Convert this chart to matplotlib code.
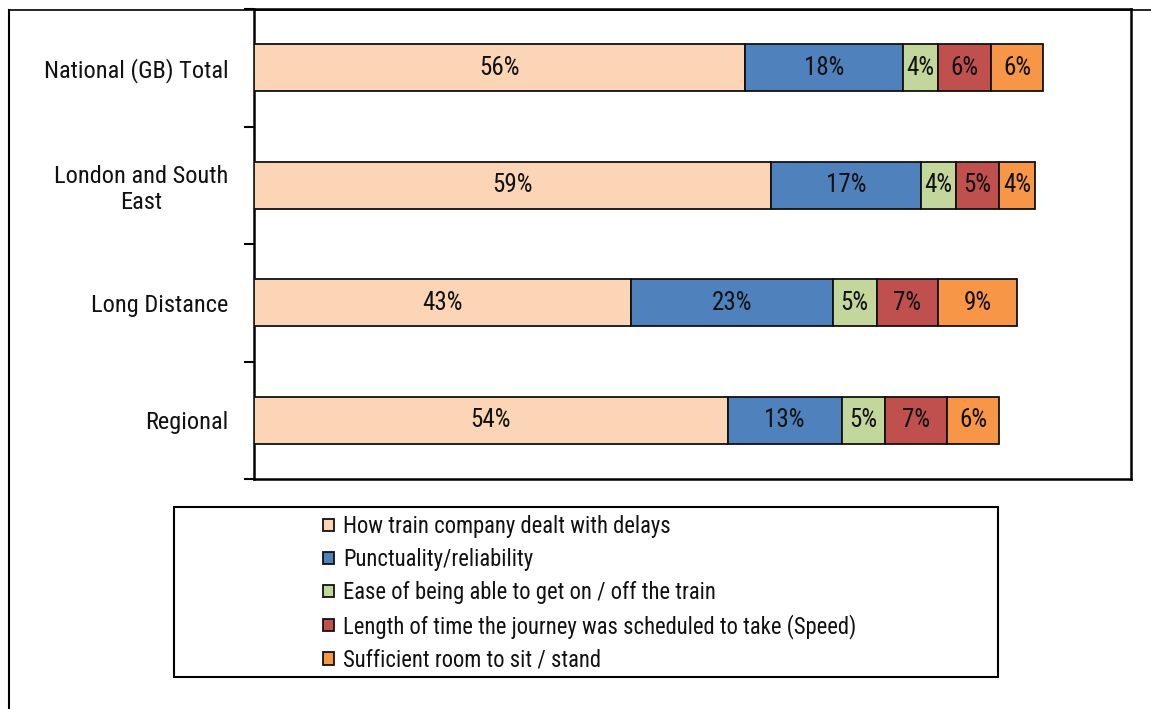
import matplotlib
matplotlib.use("Agg")
import matplotlib.pyplot as plt
from matplotlib.lines import Line2D
from matplotlib.patches import Rectangle
import numpy as np

plt.rcParams['font.family'] = ['Roboto Condensed', 'Archivo Narrow', 'DejaVu Sans']

categories = ["National (GB) Total", "London and South\nEast", "Long Distance", "Regional"]
series_names = [
    "How train company dealt with delays",
    "Punctuality/reliability",
    "Ease of being able to get on / off the train",
    "Length of time the journey was scheduled to take (Speed)",
    "Sufficient room to sit / stand",
]
delays = [56, 59, 43, 54]
punctuality = [18, 17, 23, 13]
ease = [4, 4, 5, 5]
speed = [6, 5, 7, 7]
room = [6, 4, 9, 6]
series_values = [delays, punctuality, ease, speed, room]
colors = ["#FBD5B5", "#4F81BD", "#C3D69B", "#C0504D", "#F79646"]

W, H = 1151, 709
fig = plt.figure(figsize=(W / 100, H / 100), dpi=100)

ax = fig.add_axes([254 / W, (H - 479) / H, (1131 - 254) / W, (479 - 9) / H])
y = np.arange(len(categories))
left = np.zeros(len(categories))
handles = []
for name, vals, col in zip(series_names, series_values, colors):
    vals = np.array(vals, dtype=float)
    bars = ax.barh(y, vals, left=left, height=0.4, color=col,
                   edgecolor="#111111", linewidth=1.3, label=name, zorder=3)
    handles.append(bars)
    for yi, l, v in zip(y, left, vals):
        ax.text(l + v / 2, yi, f"{int(v)}%", ha="center", va="center",
                fontsize=18, color="#111111", zorder=4)
    left += vals

ax.set_xlim(0, 100)
ax.set_ylim(len(categories) - 0.5, -0.5)
ax.set_xticks([])
ax.set_yticks(np.arange(-0.5, len(categories)), minor=False)
ax.set_yticklabels([])
ax.set_yticks(y, minor=True)
ax.set_yticklabels(categories, minor=True, fontsize=17.6, ha="right",
                   multialignment="center", color="#111111")
ax.tick_params(axis="y", which="major", length=7, width=1.5, direction="out")
ax.tick_params(axis="y", which="minor", length=0, pad=18.5)
for s in ax.spines.values():
    s.set_linewidth(1.8)
    s.set_color("black")

# outer frame lines
fig.add_artist(Line2D([9 / W, 9 / W], [0, 1 - 10 / H], transform=fig.transFigure,
                      color="black", linewidth=1.5))
fig.add_artist(Line2D([9 / W, 1], [1 - 10 / H, 1 - 10 / H], transform=fig.transFigure,
                      color="black", linewidth=1.2))

# legend box
fig.add_artist(Rectangle((174 / W, (H - 677) / H), (998 - 174) / W, (677 - 507) / H,
                         transform=fig.transFigure, fill=False, edgecolor="black",
                         linewidth=1.5))
leg = fig.legend(handles=handles, labels=series_names, loc="upper left",
                 bbox_to_anchor=(323 / W, 1 - 515 / H), frameon=False,
                 fontsize=16.3, handlelength=0.47, handleheight=0.47,
                 handletextpad=0.42, labelspacing=0.44, borderaxespad=0,
                 borderpad=0)
for t in leg.get_texts():
    t.set_color("#111111")

fig.savefig("out.png", dpi=100)
